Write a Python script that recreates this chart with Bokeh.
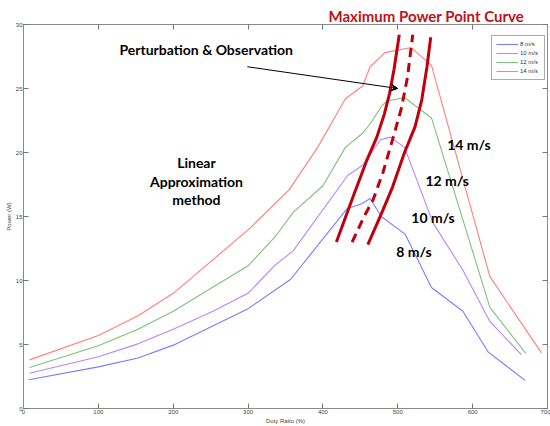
from bokeh.plotting import figure
from bokeh.models import (Range1d, LinearAxis, FixedTicker, Label, Arrow, VeeHead,
                          Legend, LegendItem)
from bokeh.embed import file_html
from bokeh.resources import INLINE

# ---- data -------------------------------------------------------------
duty_8 = [7, 100, 153, 200, 300, 357, 432, 452, 463, 478, 510, 545, 587, 621, 670]
power_8 = [2.25, 3.25, 3.95, 4.95, 7.8, 10.1, 15.6, 16.0, 16.4, 15.0, 13.6, 9.45, 7.6, 4.4, 2.2]

duty_10 = [8, 100, 153, 200, 253, 300, 336, 360, 433, 453, 477, 490, 509, 547, 587, 623, 665]
power_10 = [2.75, 4.05, 5.05, 6.2, 7.6, 9.0, 11.2, 12.3, 18.2, 19.0, 21.0, 21.2, 20.4, 14.5, 10.8, 6.8, 4.2]

duty_12 = [8, 100, 153, 200, 300, 336, 360, 400, 430, 453, 465, 478, 485, 509, 545, 623, 671]
power_12 = [3.2, 4.9, 6.2, 7.6, 11.15, 13.4, 15.3, 17.4, 20.4, 21.5, 22.4, 23.6, 24.0, 24.3, 22.7, 7.9, 4.3]

duty_14 = [8, 100, 153, 200, 300, 355, 393, 430, 453, 463, 483, 518, 545, 623, 692]
power_14 = [3.8, 5.7, 7.25, 9.0, 13.95, 17.1, 20.4, 24.2, 25.2, 26.7, 27.8, 28.2, 26.8, 10.3, 4.35]

series_labels = ["8 m/s", "10 m/s", "12 m/s", "14 m/s"]
series_colors = ["#7b7bff", "#b785ff", "#7fc07f", "#ff7f7f"]

# Maximum power point band (drawn by hand on the original)
mpp_left_x = [418, 440, 458, 472, 482, 489, 495, 502]
mpp_left_y = [13.0, 16.5, 19.3, 21.2, 23.0, 24.6, 26.5, 29.2]
mpp_mid_x = [439, 455, 467, 480, 493, 505, 513, 520]
mpp_mid_y = [13.0, 15.0, 16.3, 18.4, 21.0, 23.5, 25.9, 29.2]
mpp_right_x = [460, 478, 493, 509, 523, 532, 539, 544]
mpp_right_y = [12.8, 15.2, 17.3, 20.0, 22.0, 24.1, 26.7, 29.0]

x_ticks = [0, 100, 200, 300, 400, 500, 600, 700]
y_ticks = [0, 5, 10, 15, 20, 25, 30]

title_text = "Maximum Power Point Curve"
po_text = "Perturbation & Observation"
linear_lines = ["Linear", "Approximation", "method"]
speed_texts = ["14 m/s", "12 m/s", "10 m/s", "8 m/s"]
speed_text_x = [566, 537, 518, 498]
speed_text_y = [20.65, 17.85, 14.96, 12.24]

# ---- figure -----------------------------------------------------------
FONT = "Lato"
AX = "#8a8a8a"

p = figure(width=550, height=426, output_backend="svg", toolbar_location=None,
           x_range=Range1d(0, 700), y_range=Range1d(0, 30),
           min_border_left=23, min_border_right=3, min_border_top=24, min_border_bottom=17,
           x_axis_label="Duty Ratio (%)", y_axis_label="Power (W)",
           title=title_text)
p.grid.visible = False
p.outline_line_color = AX
p.background_fill_color = "white"
p.border_fill_color = "white"

p.title.align = "left"
p.title.offset = 305
p.title.text_font = FONT
p.title.text_font_size = "15px"
p.title.text_font_style = "bold"
p.title.text_color = "#c0101a"
p.title.standoff = 0

def style_axis(ax, ticks, show_labels=True):
    ax.ticker = FixedTicker(ticks=ticks)
    ax.axis_line_color = AX
    ax.major_tick_line_color = "#777777"
    ax.major_tick_in = 5
    ax.major_tick_out = 0
    ax.minor_tick_line_color = None
    ax.major_label_text_font = "Liberation Sans"
    ax.major_label_text_font_size = "6px"
    ax.major_label_text_color = "#444444"
    ax.major_label_standoff = 1
    ax.axis_label_text_font = "Liberation Sans"
    ax.axis_label_text_font_size = "6px"
    ax.axis_label_text_font_style = "normal"
    ax.axis_label_text_color = "#444444"
    ax.axis_label_standoff = 1
    if not show_labels:
        ax.major_label_overrides = {t: "" for t in ticks}
        ax.major_label_standoff = 0

style_axis(p.xaxis[0], x_ticks)
style_axis(p.yaxis[0], y_ticks)
top_ax = LinearAxis()
right_ax = LinearAxis()
style_axis(top_ax, x_ticks, False)
style_axis(right_ax, y_ticks, False)
p.add_layout(top_ax, "above")
p.add_layout(right_ax, "right")

# ---- series -----------------------------------------------------------
renderers = []
for xs, ys, c in zip([duty_8, duty_10, duty_12, duty_14],
                     [power_8, power_10, power_12, power_14], series_colors):
    r = p.line(xs, ys, line_color=c, line_width=1.1)
    renderers.append(r)

legend = Legend(items=[LegendItem(label=l, renderers=[r]) for l, r in zip(series_labels, renderers)],
                location=(468, 328))
legend.label_text_font = "Liberation Sans"
legend.label_text_font_size = "6px"
legend.label_text_color = "#333333"
legend.glyph_width = 22
legend.glyph_height = 8
legend.label_height = 8
legend.label_standoff = 2
legend.spacing = 1
legend.padding = 4
legend.margin = 0
legend.border_line_color = "#555555"
legend.border_line_width = 1
p.add_layout(legend)

# ---- hand-drawn MPP band ----------------------------------------------
MPP = "#c0000c"
p.line(mpp_left_x, mpp_left_y, line_color=MPP, line_width=3)
p.line(mpp_right_x, mpp_right_y, line_color=MPP, line_width=3)
p.line(mpp_mid_x, mpp_mid_y, line_color=MPP, line_width=3, line_dash="9 6")

# ---- annotations ------------------------------------------------------
p.add_layout(Label(x=244, y=28.06, text=po_text, text_font=FONT, text_font_size="14px",
                   text_font_style="bold", text_color="black",
                   text_align="center", text_baseline="middle"))
for i, t in enumerate(linear_lines):
    p.add_layout(Label(x=231, y=19.25 - i * 1.48, text=t, text_font=FONT, text_font_size="14px",
                       text_font_style="bold", text_color="black",
                       text_align="center", text_baseline="middle"))
for t, xx, yy in zip(speed_texts, speed_text_x, speed_text_y):
    p.add_layout(Label(x=xx, y=yy, text=t, text_font=FONT, text_font_size="14px",
                       text_font_style="bold", text_color="black",
                       text_align="left", text_baseline="middle"))

p.add_layout(Arrow(x_start=299, y_start=26.7, x_end=500, y_end=25.0,
                   line_color="black", line_width=1,
                   end=VeeHead(size=7, fill_color="black", line_color="black")))

open("out.html", "w").write(file_html(p, INLINE))
